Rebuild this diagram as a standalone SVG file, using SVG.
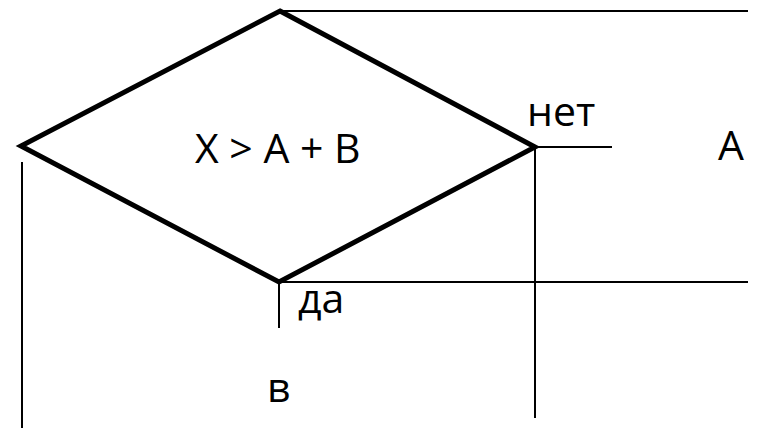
<svg xmlns="http://www.w3.org/2000/svg" width="758" height="428" viewBox="0 0 758 428">
<style>
.t{font-family:"Open Sans","Noto Sans","Liberation Sans",sans-serif;font-size:41px;fill:#000}
.c{stroke:#000;stroke-width:2;fill:none}
.d{stroke:#000;stroke-width:5;fill:#fff;stroke-linejoin:miter}
</style>
<rect width="758" height="428" fill="#fff"/>
<g id="connectors">
<line class="c" x1="280" y1="11" x2="748" y2="11"/>
<line class="c" x1="22" y1="162" x2="22" y2="428"/>
<line class="c" x1="535" y1="147" x2="612" y2="147"/>
<line class="c" x1="535" y1="147" x2="535" y2="418"/>
<line class="c" x1="279" y1="282" x2="748" y2="282"/>
<line class="c" x1="279" y1="282" x2="279" y2="328"/>
</g>
<g id="decision">
<polygon class="d" points="280,11 535,147 279,282 21,146"/>
<text class="t" x="195" y="163">X &gt; A + B</text>
</g>
<g id="label-no"><text class="t" x="527" y="126">нет</text></g>
<g id="label-yes"><text class="t" x="298" y="313">да</text></g>
<g id="node-a"><text class="t" x="718" y="160">A</text></g>
<g id="node-b"><text class="t" x="267" y="402">в</text></g>
</svg>
